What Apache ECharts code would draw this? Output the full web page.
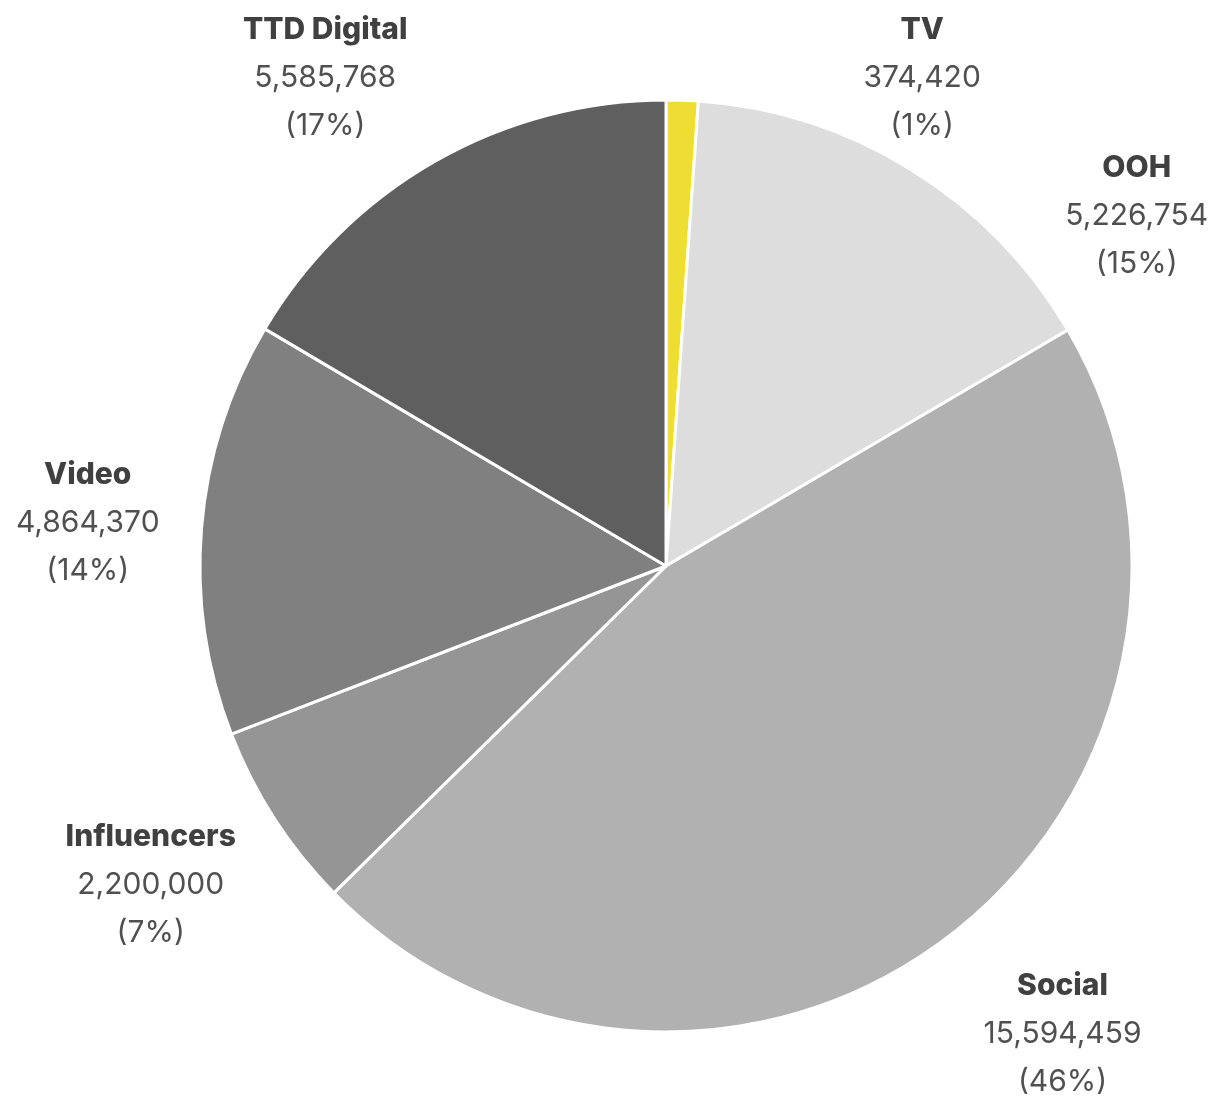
<!DOCTYPE html>
<html>
<head>
<meta charset="utf-8">
<script src="https://cdn.jsdelivr.net/npm/echarts@6/dist/echarts.min.js"></script>
<style>
html,body{margin:0;padding:0;background:#fff;}
#chart{width:1218px;height:1098px;}
</style>
</head>
<body>
<div id="chart"></div>
<script>
// Data
const categories = ['TV', 'OOH', 'Social', 'Influencers', 'Video', 'TTD Digital'];
const values = [374420, 5226754, 15594459, 2200000, 4864370, 5585768];
const colors = ['#eedd33', '#dddddd', '#b1b1b1', '#959595', '#808080', '#5f5f5f'];

// Label placement styling (angle offset from slice middle in degrees, distance from centre in px)
const labelAngleOffset = [25.6, 21.4, -2.9, 1.25, -0.3, -5.1];
const labelDistance = [553, 588, 612, 605, 580, 597];

const CX = 666, CY = 566, R = 466;
const total = values.reduce((a, b) => a + b, 0);
const midAngles = [];
let acc = 0;
values.forEach(v => {
  const a = v / total * 360;
  midAngles.push(acc + a / 2);
  acc += a;
});

const chart = echarts.init(document.getElementById('chart'), null, {renderer: 'canvas'});
chart.setOption({
  animation: false,
  backgroundColor: '#ffffff',
  series: [{
    type: 'pie',
    center: [CX, CY],
    radius: [0, R],
    startAngle: 90,
    clockwise: true,
    avoidLabelOverlap: false,
    data: categories.map((c, i) => ({
      name: c,
      value: values[i],
      itemStyle: {color: colors[i]}
    })),
    itemStyle: {borderColor: '#ffffff', borderWidth: 3},
    emphasis: {disabled: true},
    labelLine: {show: false},
    label: {
      show: true,
      position: 'outside',
      align: 'center',
      formatter: function (p) {
        const pct = Math.round(p.value / total * 100);
        return '{n|' + p.name + '}\n{v|' + p.value.toLocaleString('en-US') + '}\n{v|(' + pct + '%)}';
      },
      rich: {
        n: {fontFamily: 'Inter', fontWeight: 800, fontSize: 30, color: '#404040', lineHeight: 48, align: 'center'},
        v: {fontFamily: 'Inter', fontWeight: 'normal', fontSize: 30, color: '#505050', lineHeight: 48, align: 'center'}
      }
    },
    labelLayout: function (params) {
      const i = params.dataIndex;
      const a = (midAngles[i] + labelAngleOffset[i]) * Math.PI / 180;
      const d = labelDistance[i];
      return {
        x: CX + d * Math.sin(a),
        y: CY - d * Math.cos(a) + 2,
        align: 'center',
        verticalAlign: 'middle'
      };
    }
  }]
});
</script>
</body>
</html>
